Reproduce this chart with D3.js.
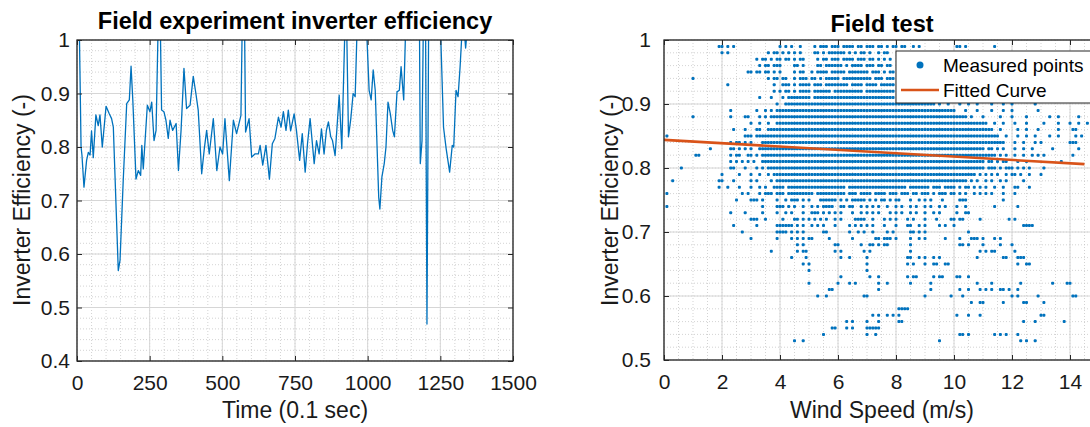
<!DOCTYPE html>
<html><head><meta charset="utf-8">
<script src="https://cdn.jsdelivr.net/npm/d3@7"></script>
<style>body{margin:0;background:#fff}svg{display:block;font-family:"Liberation Sans",Arial,Helvetica,sans-serif}</style>
</head><body><svg id="c" width="1090" height="427"></svg>
<script>
// ---------- Left chart data: inverter efficiency vs time ----------
const timeT = [0,8,14,17,24,33,39,45,50,56,65,73,79,87,100,111,119,125,142,148,159,171,180,186,192,203,211,219,223,228,242,251,257,265,272,280,286,291,299,306,314,320,329,341,349,358,368,377,389,400,409,417,429,438,446,455,469,481,492,501,509,524,538,549,564,569,576,580,592,601,612,624,630,639,650,662,672,681,693,702,710,719,727,735,747,755,766,775,785,793,802,816,824,833,841,850,858,865,873,879,888,902,911,923,927,934,942,950,957,965,994,1005,1012,1019,1026,1038,1042,1049,1057,1063,1070,1078,1086,1092,1101,1109,1115,1124,1132,1178,1181,1187,1192,1199,1204,1210,1249,1261,1270,1282,1291,1296,1304,1311,1318,1325,1332,1337,1341,1345];
const effV = [1.05,1.02,0.80,0.785,0.725,0.775,0.79,0.785,0.83,0.78,0.86,0.84,0.86,0.80,0.876,0.862,0.853,0.837,0.569,0.588,0.737,0.881,0.888,0.951,0.888,0.74,0.756,0.747,0.803,0.759,0.878,0.866,0.884,0.812,0.831,1.05,1.05,0.869,0.866,0.85,0.816,0.85,0.831,0.844,0.756,0.831,0.947,0.872,0.878,0.932,0.90,0.869,0.75,0.797,0.831,0.787,0.853,0.756,0.80,0.787,0.853,0.737,0.85,0.825,0.859,1.05,1.05,0.828,0.853,0.781,0.787,0.787,0.803,0.766,0.803,0.74,0.806,0.816,0.856,0.837,0.866,0.831,0.869,0.83,0.862,0.831,0.775,0.825,0.753,0.806,0.853,0.769,0.812,0.787,0.834,0.787,0.831,0.847,0.819,0.812,0.784,0.897,0.797,1.05,1.05,0.819,0.853,0.90,0.894,1.05,1.05,0.906,0.888,0.944,0.906,0.706,0.684,0.744,0.769,0.80,0.884,0.862,0.831,0.819,0.903,0.906,0.95,0.888,1.05,1.05,0.769,0.812,1.05,1.05,0.469,1.05,1.05,0.837,0.797,0.753,0.803,0.80,0.906,0.894,0.95,1.02,1.02,0.985,1.01,1.01];
const timeTicks = [0,250,500,750,1000,1250,1500];
const effTicksL = [0.4,0.5,0.6,0.7,0.8,0.9,1];
const effTickLabelsL = ["0.4","0.5","0.6","0.7","0.8","0.9","1"];

// ---------- Right chart data: efficiency vs wind speed ----------
// one row per measured efficiency level; each char is a 0.1 m/s wind bin ("#" = measured point), groups of 1 m/s
const effLevels = [0.99,0.98,0.97,0.96,0.95,0.94,0.93,0.92,0.91,0.90,0.89,0.88,0.87,0.86,0.85,0.84,0.83,0.82,0.81,0.80,0.79,0.78,0.77,0.76,0.75,0.74,0.73,0.72,0.71,0.70,0.69,0.68,0.67,0.66,0.65,0.64,0.63,0.62,0.61,0.60,0.59,0.58,0.57,0.56,0.55,0.54,0.53];
const windRows = [
".......... .........# #.#.#..... .......... #.#.#..#.. ..#.###.## #.####.##. ###.##.#.# #.##..#.#. .......... .##.#..... ....#.....",
".......... .......... #.#....... ......#.## .#.#.#.#.. ..##.#.### ###.#.#.## .#..#.##..",
".......... .......... .......... ..#.##.#.# #.##.#.##. ...#.##.## #.####.### .##.#.#.#.",
".......... .......... .......... ...#.##.## #....##.#. ...##.#### ##.#.####. ###.##.##.",
".......... .......... .........# #.##.##.#. #....#.##. .#.####.## ###.###### #.###.#.##",
".......... #......... .......... ......#.## .##..#.### .##.#.#### #.######## ##.###.###",
".......... .......... ..#....... ........#. .###.#.### #.###.#### ####.####. ####.#####",
".......... .......... .......... ........#. #.##.#.### #.######.# #########. ##########",
".......... .......... .......... ...#...#.. .#.####### #.######## ########## ##########",
".......... .......... .......... .........# ..######## ########## ########## ########## ########## ####.#..#. ..#..#..#. ...#...#.. #.......#.",
".......... .......... ...#...... ..#..#.#.# ########## ########## ########## ########## ########## ########## #...#...#. ...#...#.. #........#",
".......... #......... ...#....## ...#.#.### ########## ########## ########## ########## ########## ########## #####.#... #.....#... #....#.... ...#..#... ...#......",
".......... .......... .......... #..#..#..# ########## ########## ########## ########## ########## ########## ########## ##..#..#.. .#...#.... .#....#... #..#..#...",
".......... .......... ....#...#. ..##..#### ########## ########## ########## ########## ########## ########## ########## ####..#... ..#..#...# ......#... .##.......",
".#........ .......... ........## #.######## ########## ########## ########## ########## ########## ########## ########## ######..#. ..#..#..#. ...#..#... ..#.#.....",
".......... .......... ...#.##.#. #...###### ########## ########## ########## ########## ########## ########## ########## ########.. .#..#...#. #......... ###.......",
".......... ......#... ...##.#.#. #..####### ########## ########## ########## ########## ########## ########## ########## #.##.#.#.. .#..#..#.. ....#..... ...#......",
".......... .##....... ...#.##..# #.#.###### ########## ########## ########## ########## ########## ########## ########## #####.#.#. .#..#..#.# .#........ .#........",
".......... .......... ...#.#.#.# .#..###### ########## ########## ########## ########## ########## ########## ########## #.##.#.##. ..#..#.... .......#..",
"......#... .......... ...##...#. ..#.#.#### ########## ########## ########## ########## ########## ########## ########## #.###.#.## #.#.#.#... .#........",
".......... .......... #.....#... #..#..#.## ########## ########## ########## ########## ########## ########## ########.# .#.#.#..#. ##.#..#... #.........",
"...#...... .........# #...#..... #.#....#.# ########## ########## ########## ########## ########## ########## #####.#.#. .#.#..#.#. ....#.....",
".......... .........# ..#...#... #..#.#..## ##.####### ########## ###.###### ########## ####.##### ##.###.### #.#.##.#.# .#..#..#.. .##...#...",
".#........ .......... .......#.# ...#.###.# ##.####### ##.####### ###.###.## ##.####.## #.###.##.# ##.#.###.# #.#.#..#.# .#.#...#.. .#........",
".......... .......... .....#.... ###.#....# ..#.###.#. #...###### .#.#.##### .#.#.##.#. ##...#..#. #.#...#... ..###..... .......#..",
".#........ .......... .......... ....#....# ##.#.#..#. .#.#.####. .##.##..#. #.#.#..#.. #.#..#.#.. #.#..#.#.. .#..#..... ....#..... ..#.......",
".......... .......... ...#....#. ....#....# ..#.#...#. .###.#.#.# .#...#..#. #.#.#...#. #.#..#.#.. #..#.#.... .#..##....",
".......... .......... .......... ###..#.... .#...##.#. #.#.#.#..# .#....#### ..#...#.#. #...#.#... #...#....# #.##.....# .........# .#........",
".......... .......... ....#..... ..#......# #####.#.#. .#.#.#...# ....#.#.#. #.#...#... #...##..#. #....#.#.. #......... .......... ....####..",
".......... .......... .......#.. .........# ###.#.#.#. .....##... ....#..#.# ..#....#.# .....##.#. #......... .....#....",
".......... .......... .......... #........# ....#.#.#. ##.....#.. .....#.... ...##.###. #....#..#. #......#.. ..#...###. #...#.#...",
".......... .......... .......... .......... ......#.#. .........# #.......#. .##.#.##.. .....#.... .......... ..##.#.... #.....#... #.........",
".......... .......... .......... .......#.. ......#.## .........# .#.......# .#........ .....#.... .......... .........# .#.##..... .#........",
".......... .......... .......... .......... ....#....# .......... .#..#..... #......... ....##..#. #..#.#.... ........#. .......##. ..###.....",
".......... .......... .......... .......... ........#. #......... .......... #......... ....#.#... #..##..##. .......... .......... ..#..##...",
".......... .......... .......... .......... .......... #......... .......... #.........",
".......... .......... .......... .......... .......... .......... .#........ .#..#..... ....#.##.. ...#.##... .##..#....",
".......... .......... .......... .......... .......... #......... #...#.#... ....#..#.. .....#.... ..#....... ........#. ...#...... ...#...... ....#....# #.........",
".......... .......... .......... .......... .......... .......##. .......... ....#..... .......... ..#....... ..#..#...# .#.#..##.# ..#.......",
".......... .......... .......... .......... .......... ...#..#... .........# #......... .......... #........# ...#...... .......... #.#......# .......... .##.......",
".......... .......... .......... .......... .......... .......... .......... .......... .......... .......... ......#..# #......#.. ....##.... .#........",
".......... .......... .......... .......... .......... .......... .......... .......... .####.....",
".......... .......... .......... .......... .......... .......... .......... ..#.#..#.# .#........ .......... .#...#...# .......... .......... ##........",
".......... .......... .......... .......... .......... .......... ...#.#.... #...#..... .##....... .......... .......... .......... ....#...#. ........#.",
".......... .......... .......... .......... .......... ........## ...#.#.... #####.....",
".......... .......... .......... .......... .......... .....#.... .......... #..#...... .......... .......... ..##.#.... ....#.#.#. ..#.......",
".......... .......... .......... .......... .....#..#. .......... .......... .......... .......... .....#.... .......... .......... ...#.#..#."
];
const windTicks = [0,2,4,6,8,10,12,14];
const effTicksR = [0.5,0.6,0.7,0.8,0.9,1];
const effTickLabelsR = ["0.5","0.6","0.7","0.8","0.9","1"];
const fitWind = [0, 14.5];
const fitEff = [0.844, 0.806];

const titles = ["Field experiment inverter efficiency", "Field test"];
const xLabels = ["Time (0.1 sec)", "Wind Speed (m/s)"];
const yLabel = "Inverter Efficiency (-)";
const legendLabels = ["Measured points", "Fitted Curve"];

// ---------- drawing ----------
const BLUE = "#0072BD", ORANGE = "#D95319", AX = "#262626";
const svg = d3.select("#c");

function frame(x, y, xTicks, yTicks, xMinor, yMinor, id) {
  const [x0, x1] = x.range(), [y1, y0] = y.range();
  const g = svg.append("g");
  g.append("rect").attr("x", x0).attr("y", y0).attr("width", x1 - x0).attr("height", y1 - y0).attr("fill", "#fff");
  g.selectAll(null).data(xMinor).join("line")
    .attr("x1", d => x(d)).attr("x2", d => x(d)).attr("y1", y0).attr("y2", y1)
    .attr("stroke", "#c8c8c8").attr("stroke-width", 0.8).attr("stroke-dasharray", "1,2");
  g.selectAll(null).data(yMinor).join("line")
    .attr("y1", d => y(d)).attr("y2", d => y(d)).attr("x1", x0).attr("x2", x1)
    .attr("stroke", "#c8c8c8").attr("stroke-width", 0.8).attr("stroke-dasharray", "1,2");
  g.selectAll(null).data(xTicks).join("line")
    .attr("x1", d => x(d)).attr("x2", d => x(d)).attr("y1", y0).attr("y2", y1)
    .attr("stroke", "#d6d6d6").attr("stroke-width", 1);
  g.selectAll(null).data(yTicks).join("line")
    .attr("y1", d => y(d)).attr("y2", d => y(d)).attr("x1", x0).attr("x2", x1)
    .attr("stroke", "#d6d6d6").attr("stroke-width", 1);
  svg.append("clipPath").attr("id", id).append("rect")
    .attr("x", x0).attr("y", y0).attr("width", x1 - x0).attr("height", y1 - y0);
  return g;
}

function axes(x, y, xTicks, yTicks, yLabels, labelPad) {
  const [x0, x1] = x.range(), [y1, y0] = y.range();
  const g = svg.append("g");
  const style = sel => {
    sel.select(".domain").remove();
    sel.selectAll(".tick line").attr("stroke", AX).attr("stroke-width", 1);
    sel.selectAll(".tick text").attr("fill", "#1a1a1a").attr("font-size", 21)
      .attr("font-family", '"Liberation Sans",Arial,sans-serif');
  };
  g.append("g").attr("transform", `translate(0,${y1})`)
    .call(d3.axisBottom(x).tickValues(xTicks).tickFormat(d3.format("d")).tickSizeInner(-5).tickSizeOuter(0).tickPadding(14)).call(style);
  g.append("g").attr("transform", `translate(0,${y0})`)
    .call(d3.axisTop(x).tickValues(xTicks).tickFormat("").tickSizeInner(-5).tickSizeOuter(0)).call(style);
  g.append("g").attr("transform", `translate(${x0},0)`)
    .call(d3.axisLeft(y).tickValues(yTicks).tickFormat((d, i) => yLabels[i]).tickSizeInner(-5).tickSizeOuter(0).tickPadding(labelPad)).call(style);
  g.append("g").attr("transform", `translate(${x1},0)`)
    .call(d3.axisRight(y).tickValues(yTicks).tickFormat("").tickSizeInner(-5).tickSizeOuter(0)).call(style);
  g.append("rect").attr("x", x0).attr("y", y0).attr("width", x1 - x0).attr("height", y1 - y0)
    .attr("fill", "none").attr("stroke", AX).attr("stroke-width", 1.3);
}

// ===== Left chart =====
const xL = d3.scaleLinear().domain([0, 1500]).range([77, 513]);
const yL = d3.scaleLinear().domain([0.4, 1]).range([361, 40]);
frame(xL, yL, timeTicks, effTicksL, d3.range(0, 1501, 50), d3.range(0.4, 1.0001, 0.02), "clipL");
const lineL = d3.line().x((d, i) => xL(timeT[i])).y(d => yL(d));
svg.append("path").datum(effV).attr("d", lineL).attr("clip-path", "url(#clipL)")
  .attr("fill", "none").attr("stroke", BLUE).attr("stroke-width", 1.3).attr("stroke-linejoin", "round");
axes(xL, yL, timeTicks, effTicksL, effTickLabelsL, 7);
svg.append("text").attr("x", 295).attr("y", 29).attr("text-anchor", "middle")
  .attr("font-size", 23.5).attr("font-weight", "bold").attr("fill", "#000").text(titles[0]);
svg.append("text").attr("x", 295).attr("y", 418).attr("text-anchor", "middle")
  .attr("font-size", 23).attr("fill", "#1a1a1a").text(xLabels[0]);
svg.append("text").attr("transform", "translate(30,200) rotate(-90)").attr("text-anchor", "middle")
  .attr("font-size", 23).attr("fill", "#1a1a1a").text(yLabel);

// ===== Right chart =====
const xR = d3.scaleLinear().domain([0, 15]).range([664, 1099]);
const yR = d3.scaleLinear().domain([0.5, 1]).range([360, 40]);
frame(xR, yR, windTicks, effTicksR, d3.range(0, 15.001, 0.5), d3.range(0.5, 1.0001, 0.02), "clipR");
const pts = [];
windRows.forEach((row, r) => {
  row.split(" ").forEach((grp, gi) => {
    for (let c = 0; c < grp.length; c++) if (grp[c] === "#") pts.push([gi + c / 10, effLevels[r]]);
  });
});
svg.append("g").attr("clip-path", "url(#clipR)").selectAll("rect").data(pts).join("rect")
  .attr("x", d => xR(d[0]) - 1.5).attr("y", d => yR(d[1]) - 1.5).attr("width", 3).attr("height", 3)
  .attr("rx", 1).attr("fill", BLUE);
svg.append("path").datum(fitWind.map((w, i) => [w, fitEff[i]]))
  .attr("d", d3.line().x(d => xR(d[0])).y(d => yR(d[1])))
  .attr("fill", "none").attr("stroke", ORANGE).attr("stroke-width", 2.6);
axes(xR, yR, windTicks, effTicksR, effTickLabelsR, 13);
svg.append("text").attr("x", 882).attr("y", 32).attr("text-anchor", "middle")
  .attr("font-size", 23.5).attr("font-weight", "bold").attr("fill", "#000").text(titles[1]);
svg.append("text").attr("x", 882).attr("y", 418).attr("text-anchor", "middle")
  .attr("font-size", 23).attr("fill", "#1a1a1a").text(xLabels[1]);
svg.append("text").attr("transform", "translate(618,200) rotate(-90)").attr("text-anchor", "middle")
  .attr("font-size", 23).attr("fill", "#1a1a1a").text(yLabel);

// legend
const lg = svg.append("g");
lg.append("rect").attr("x", 896).attr("y", 51).attr("width", 200).attr("height", 52)
  .attr("fill", "#fff").attr("stroke", AX).attr("stroke-width", 1);
lg.append("circle").attr("cx", 920).attr("cy", 65).attr("r", 3.5).attr("fill", BLUE);
lg.append("line").attr("x1", 901).attr("x2", 939).attr("y1", 90).attr("y2", 90)
  .attr("stroke", ORANGE).attr("stroke-width", 2.6);
lg.selectAll("text").data(legendLabels).join("text")
  .attr("x", 943).attr("y", (d, i) => 72 + i * 25).attr("font-size", 19).attr("fill", "#000").text(d => d);
</script></body></html>
